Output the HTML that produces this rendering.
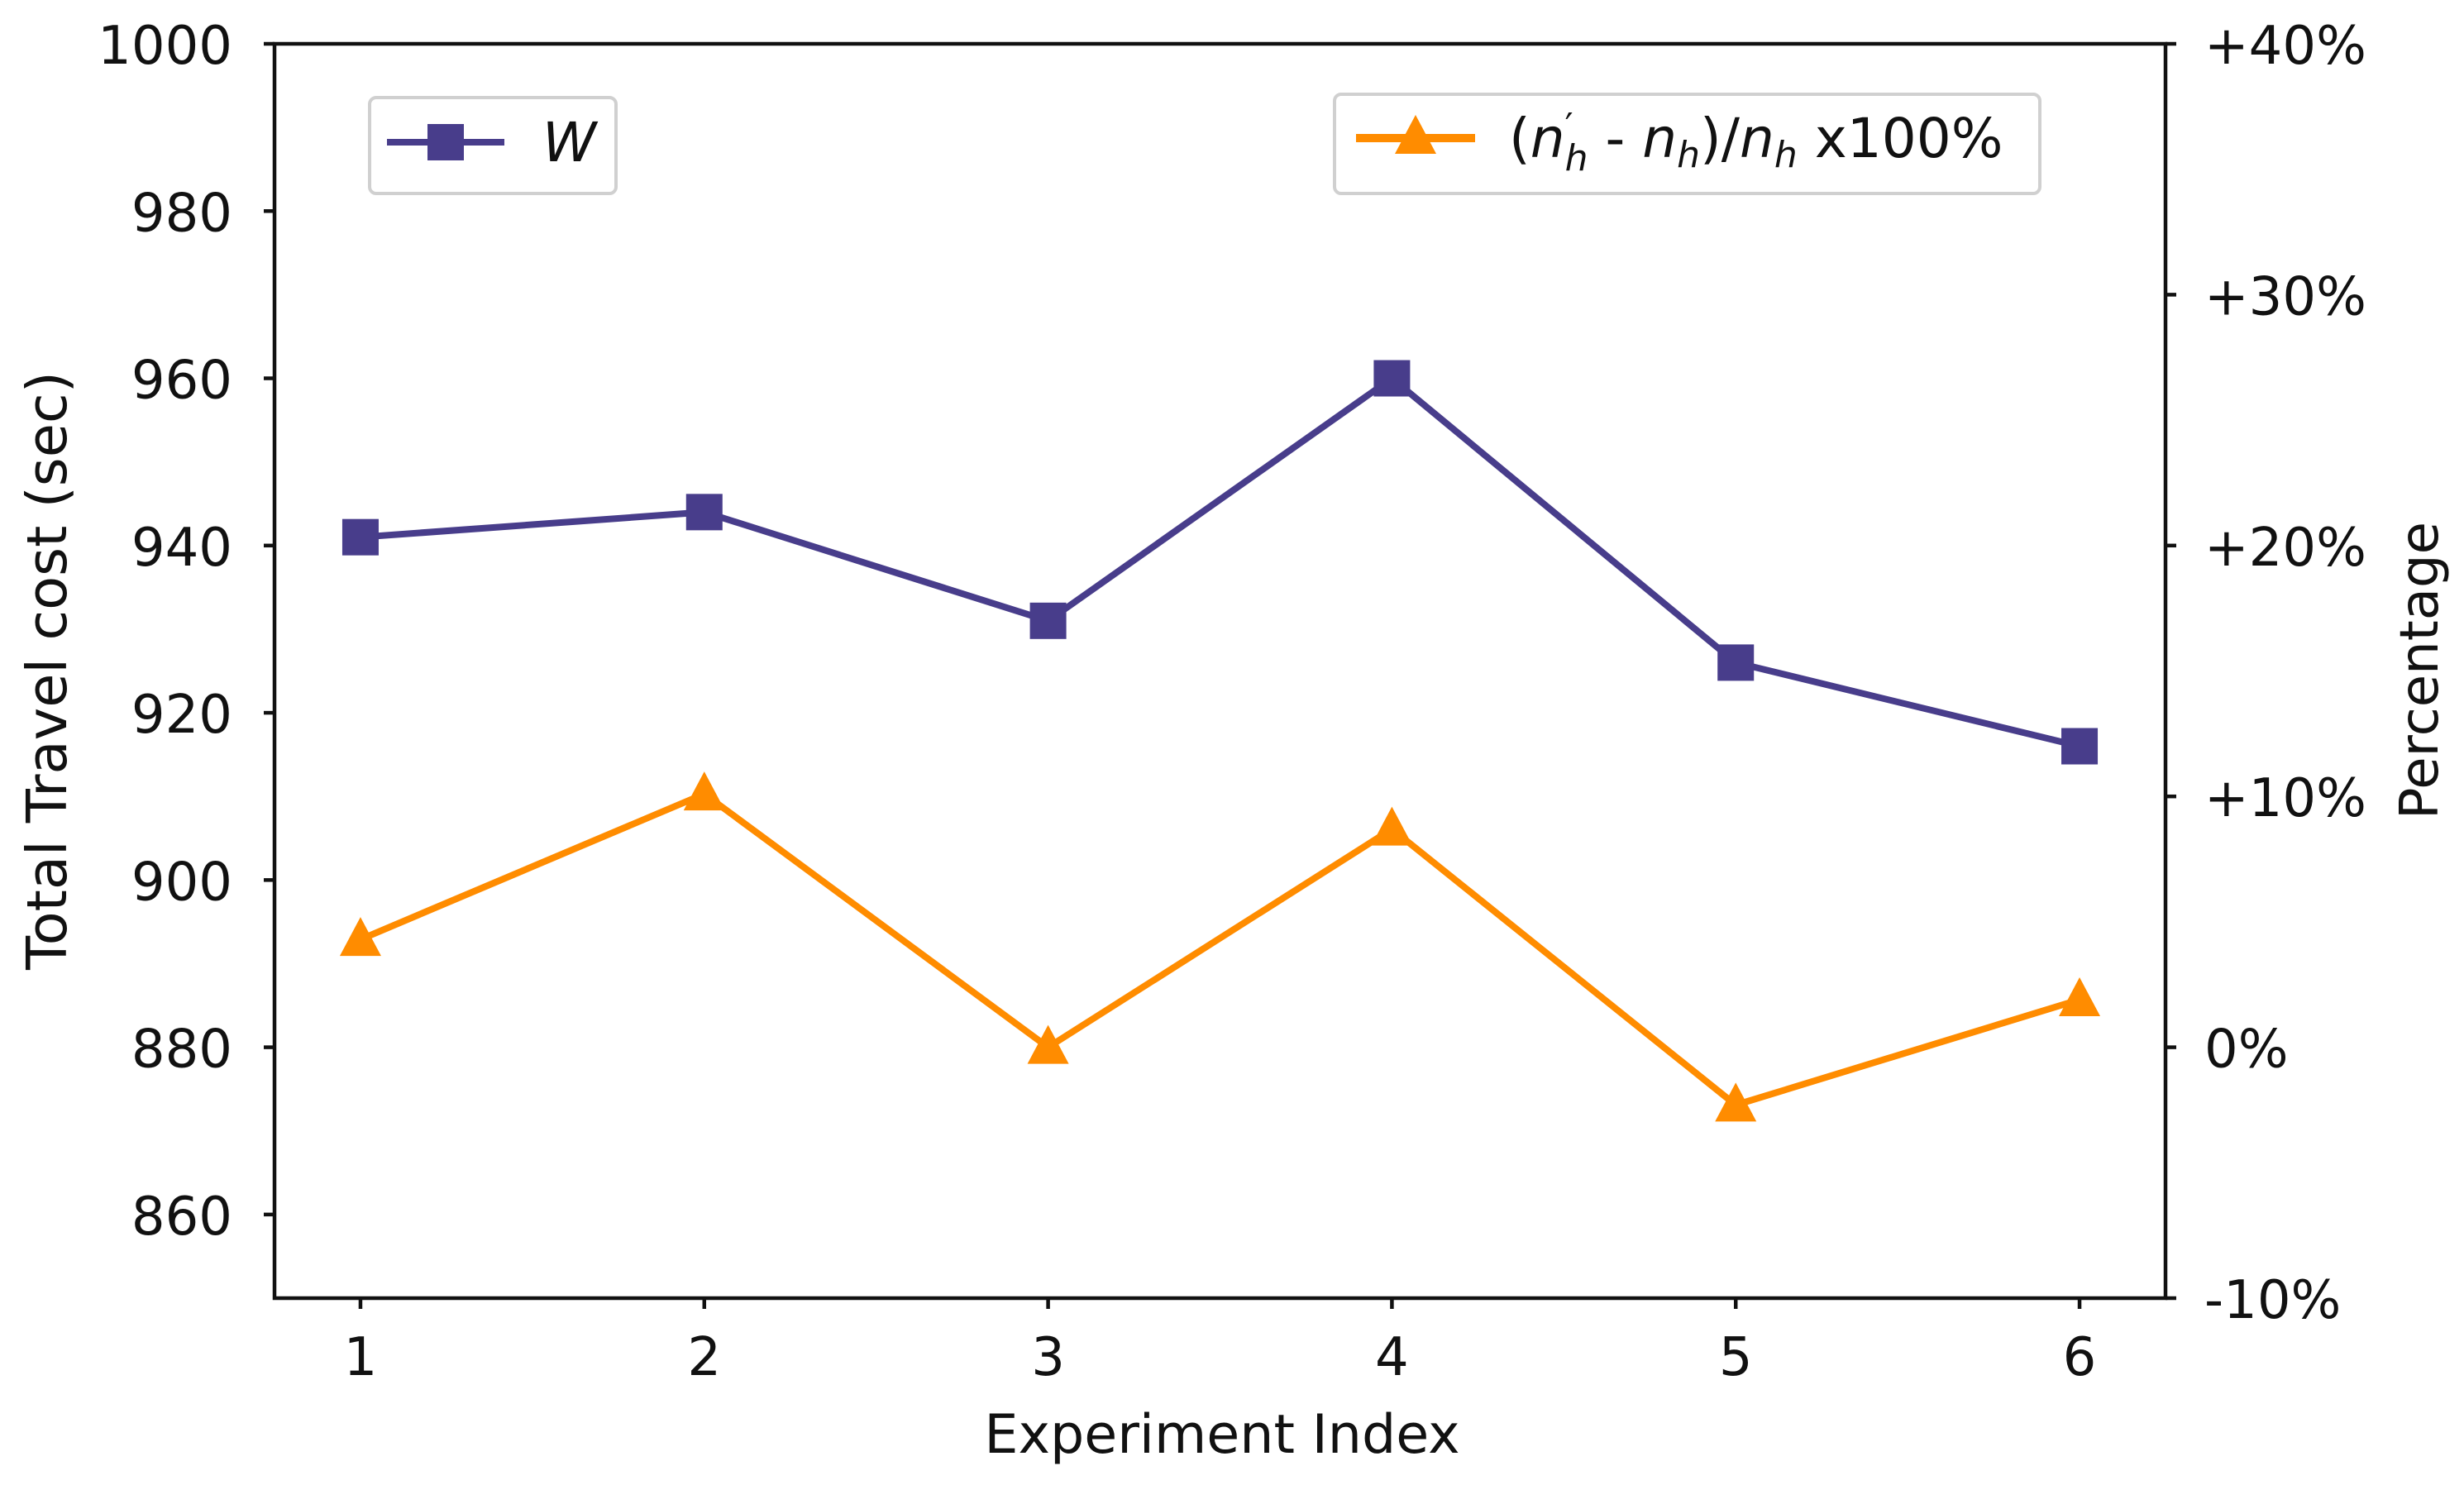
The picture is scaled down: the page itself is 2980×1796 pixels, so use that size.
<!DOCTYPE html>
<html><head><meta charset="utf-8"><style>
html,body{margin:0;padding:0;background:#fff;}
svg{display:block;font-family:"DejaVu Sans","Liberation Sans",sans-serif;}
</style></head><body>
<svg id="chart" width="2980" height="1796" viewBox="0 0 2980 1796" xmlns="http://www.w3.org/2000/svg">
<g id="grid"></g>
<g id="series"></g>
<g id="axes"></g>
</svg>
<script>
const categories = [1, 2, 3, 4, 5, 6];
const costValues = [941, 944, 931, 960, 926, 916];
const pctValues = [4.3, 10.1, 0, 8.7, -2.3, 1.9];
const leftTicks = [860, 880, 900, 920, 940, 960, 980, 1000];
const rightTicks = [-10, 0, 10, 20, 30, 40];
const rightTickLabels = ["-10%", "0%", "+10%", "+20%", "+30%", "+40%"];

const NS = "http://www.w3.org/2000/svg";
const L = 332, R = 2619, T = 53, B = 1570;
const xs = v => L + (v - 0.75) / 5.5 * (R - L);
const yL = v => B - (v - 850) / 150 * (B - T);
const yR = v => B - (v + 10) / 50 * (B - T);
const svg = document.getElementById('chart');
const axes = document.getElementById('axes');
const series = document.getElementById('series');
function mk(tag, attrs, parent, text) {
  const e = document.createElementNS(NS, tag);
  for (const k in attrs) e.setAttribute(k, attrs[k]);
  if (text !== undefined) e.textContent = text;
  parent.appendChild(e);
  return e;
}
let f = mk('rect', {x: L, y: T, width: R - L, height: B - T, fill: 'none', stroke: '#111', 'stroke-width': 4.5}, axes);


leftTicks.forEach(v => {
  const y = yL(v);
  const t = mk('line', {x1: L - 13, x2: L, y1: y, y2: y, stroke: '#111', 'stroke-width': 4.5}, axes);
  
  
  const tx = mk('text', {x: 281, y: y + 24, 'font-size': 64, 'text-anchor': 'end', fill: '#111'}, axes, String(v));
  
  
});
rightTicks.forEach((v, i) => {
  const y = yR(v);
  const t = mk('line', {x1: R, x2: R + 13, y1: y, y2: y, stroke: '#111', 'stroke-width': 4.5}, axes);
  
  
  const tx = mk('text', {x: 2666, y: y + 24, 'font-size': 64, 'text-anchor': 'start', fill: '#111'}, axes, rightTickLabels[i]);
  
  
});
categories.forEach(c => {
  const x = xs(c);
  const t = mk('line', {x1: x, x2: x, y1: B, y2: B + 13, stroke: '#111', 'stroke-width': 4.5}, axes);
  
  
  const tx = mk('text', {x: x, y: 1663, 'font-size': 64, 'text-anchor': 'middle', fill: '#111'}, axes, String(c));
  
  
});
let xl = mk('text', {x: 1478, y: 1757, 'font-size': 65, 'text-anchor': 'middle', fill: '#111'}, axes, 'Experiment Index');


let yl = mk('text', {x: 0, y: 0, 'font-size': 67, 'text-anchor': 'middle', fill: '#111', transform: 'translate(80,811) rotate(-90)'}, axes, 'Total Travel cost (sec)');


let yr = mk('text', {x: 0, y: 0, 'font-size': 64, 'text-anchor': 'middle', fill: '#111', transform: 'translate(2948,811) rotate(-90)'}, axes, 'Percentage');



const purple = '#483D8B', orange = '#FF8C00';
let pl = mk('polyline', {points: categories.map((c, i) => xs(c) + ',' + yL(costValues[i])).join(' '), fill: 'none', stroke: purple, 'stroke-width': 8}, series);


categories.forEach((c, i) => {
  const m = mk('rect', {x: xs(c) - 22, y: yL(costValues[i]) - 22, width: 44, height: 44, fill: purple}, series);
  
  
});
let ol = mk('polyline', {points: categories.map((c, i) => xs(c) + ',' + yR(pctValues[i])).join(' '), fill: 'none', stroke: orange, 'stroke-width': 8}, series);


function tri(x, y) { return `${x},${y - 27} ${x - 25},${y + 20} ${x + 25},${y + 20}`; }
categories.forEach((c, i) => {
  const m = mk('polygon', {points: tri(xs(c), yR(pctValues[i])), fill: orange}, series);
  
  
});

let lg1 = mk('g', {}, axes);


mk('rect', {x: 447, y: 118, width: 298, height: 116, rx: 8, fill: '#fff', stroke: '#d0d0d0', 'stroke-width': 4}, lg1);
mk('line', {x1: 468, x2: 610, y1: 172, y2: 172, stroke: purple, 'stroke-width': 8}, lg1);
mk('rect', {x: 517, y: 150, width: 44, height: 44, fill: purple}, lg1);
mk('text', {x: 656, y: 195, 'font-size': 66, 'font-style': 'italic', fill: '#111'}, lg1, 'W');

let lg2 = mk('g', {}, axes);


mk('rect', {x: 1614, y: 114, width: 853, height: 120, rx: 8, fill: '#fff', stroke: '#d0d0d0', 'stroke-width': 4}, lg2);
mk('line', {x1: 1640, x2: 1784, y1: 167, y2: 167, stroke: orange, 'stroke-width': 10}, lg2);
mk('polygon', {points: tri(1712, 166), fill: orange}, lg2);
const t2 = mk('text', {x: 1825, y: 190, 'font-size': 66, fill: '#111'}, lg2);
t2.innerHTML = '(<tspan font-style="italic">n</tspan><tspan font-size="44" dy="-22">′</tspan><tspan font-style="italic" font-size="44" dy="38" dx="-10">h</tspan><tspan dy="-16"> - </tspan><tspan font-style="italic">n</tspan><tspan font-style="italic" font-size="44" dy="12">h</tspan><tspan dy="-12">)/</tspan><tspan font-style="italic">n</tspan><tspan font-style="italic" font-size="44" dy="12">h</tspan><tspan dy="-12"> x100%</tspan>';
</script>
</body></html>
